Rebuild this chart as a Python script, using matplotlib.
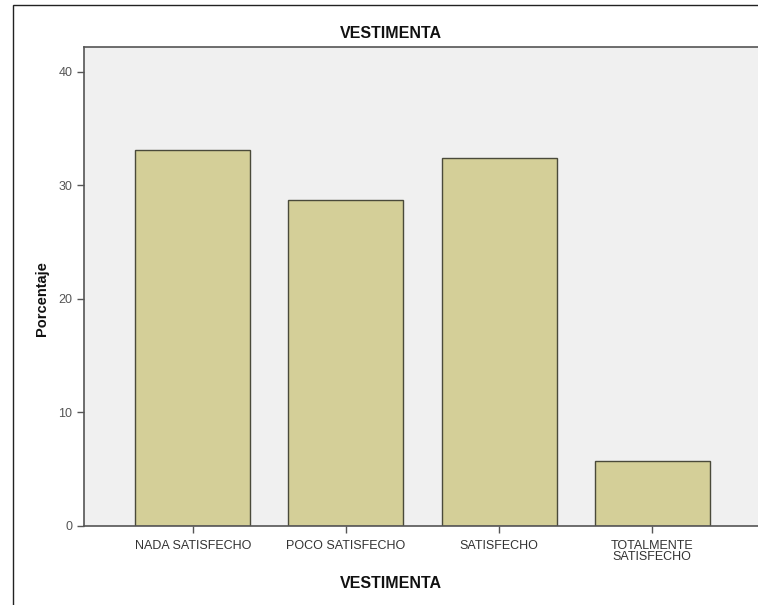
import matplotlib
matplotlib.use("Agg")
import matplotlib.pyplot as plt
from matplotlib.patches import Rectangle

categories = ["NADA SATISFECHO", "POCO SATISFECHO", "SATISFECHO", "TOTALMENTE\nSATISFECHO"]
porcentaje = [33.1, 28.7, 32.4, 5.7]
yticks = [0, 10, 20, 30, 40]

plt.rcParams['font.family'] = ['Liberation Sans', 'DejaVu Sans']

W, H = 758, 605
fig = plt.figure(figsize=(W / 100, H / 100), dpi=100)
fig.patch.set_facecolor("white")

# outer chart frame
fig.add_artist(Rectangle((13 / W, -0.01), 1.0, (H - 5) / H + 0.01, transform=fig.transFigure,
                         fill=False, edgecolor="#222222", linewidth=1.0))

left, right, top, bottom = 84, 761, 47, 526
ax = fig.add_axes([left / W, 1 - bottom / H, (right - left) / W, (bottom - top) / H])
ax.set_facecolor("#f0f0f0")

x = list(range(len(categories)))
ax.bar(x, porcentaje, width=0.75, color="#d4cf98", edgecolor="#4a4a3a", linewidth=1.0, zorder=2)

ax.set_xlim(-0.71, 3.71)
ax.set_ylim(0, 42.2)
ax.set_yticks(yticks)
ax.set_xticks(x)
ax.set_xticklabels(categories, fontsize=9, color="#333333", linespacing=0.85)
ax.tick_params(axis="y", labelsize=9, colors="#555555", length=5, width=1, labelcolor="#555555")
ax.tick_params(axis="x", length=5, width=1, colors="#555555", labelcolor="#333333", pad=5)

for side in ["left", "top", "bottom"]:
    ax.spines[side].set_color("#555555")
    ax.spines[side].set_linewidth(1.2)
ax.spines["right"].set_visible(False)

fig.text(391 / W, 1 - 33 / H, "VESTIMENTA", ha="center", va="center",
         fontsize=11.5, fontweight="bold", color="#111111")
fig.text(391 / W, 1 - 584 / H, "VESTIMENTA", ha="center", va="center",
         fontsize=11.5, fontweight="bold", color="#111111")
fig.text(42 / W, 1 - 299 / H, "Porcentaje", ha="center", va="center", rotation=90,
         fontsize=10.5, fontweight="bold", color="#111111")

fig.savefig("out.png", dpi=100)
